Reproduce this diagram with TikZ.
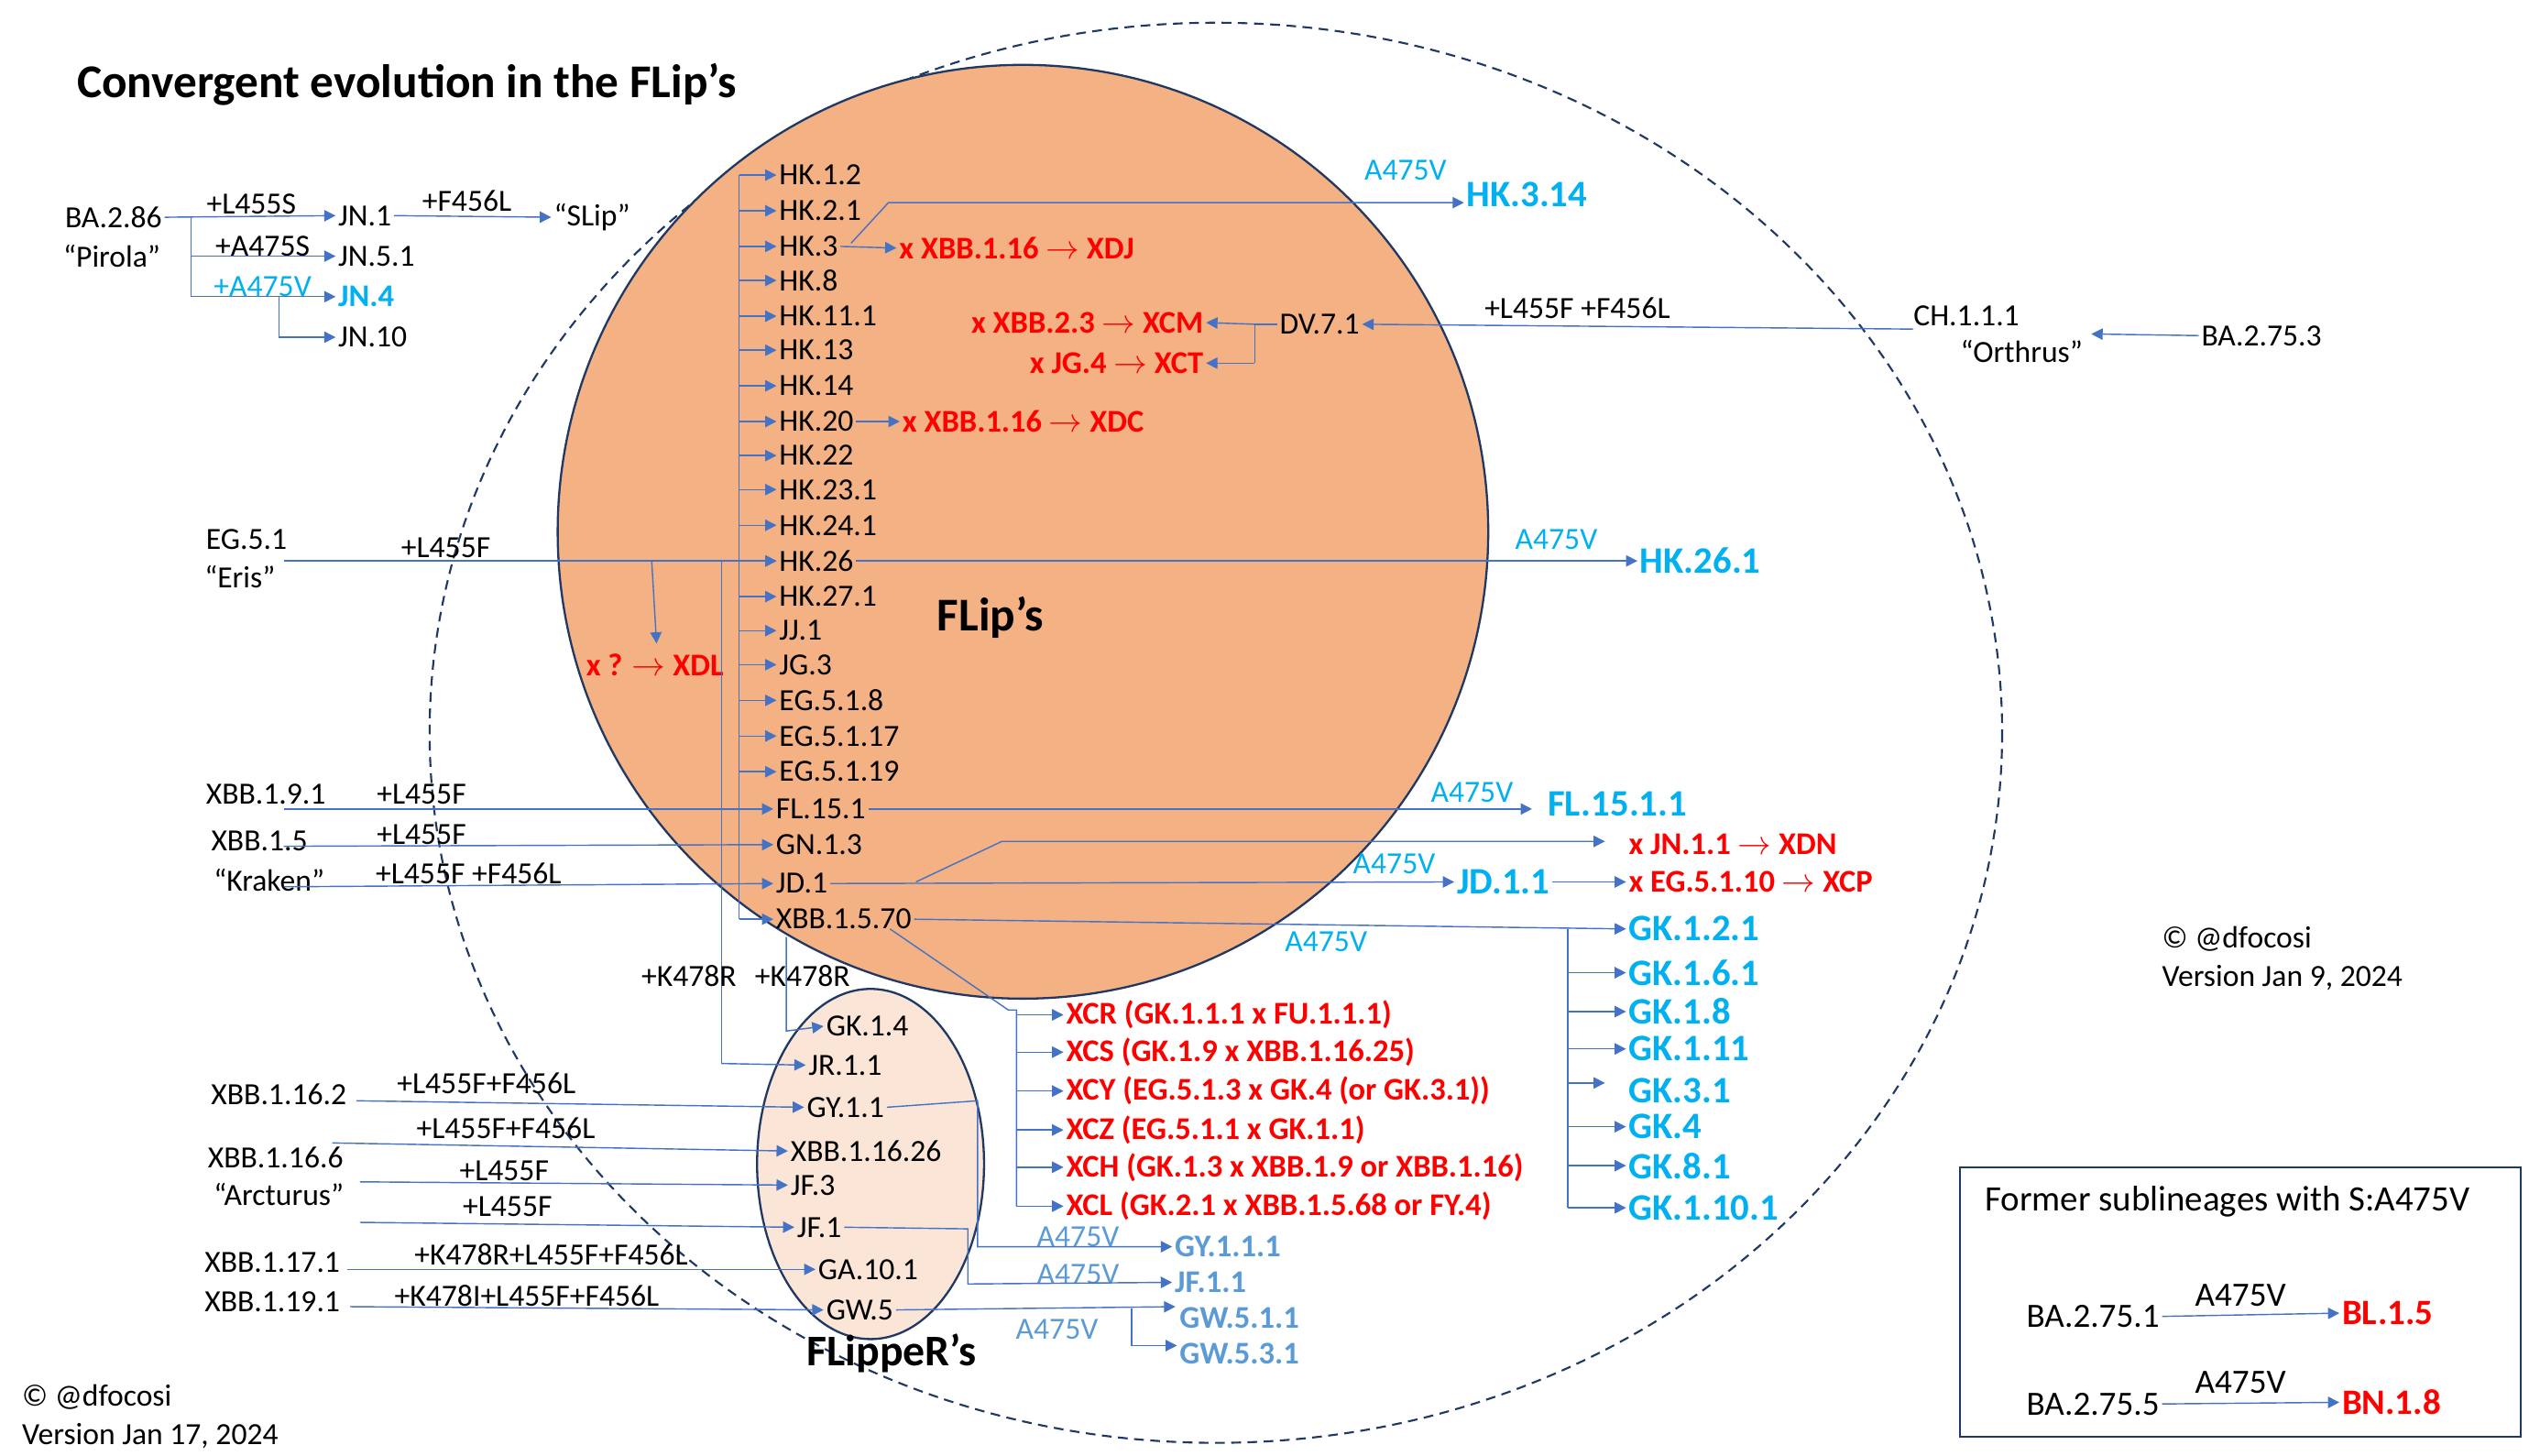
\documentclass[tikz,border=0pt]{standalone}
\usepackage{fontspec}
\setmainfont{Carlito}
\usetikzlibrary{arrows.meta}
\definecolor{lb}{HTML}{4472C4}
\definecolor{cy}{HTML}{00B0F0}
\definecolor{st}{HTML}{5B9BD5}
\definecolor{nv}{HTML}{1F3864}
\definecolor{org}{HTML}{F4B183}
\definecolor{pch}{HTML}{FBE5D6}
\tikzset{
 t/.style={inner sep=1.5pt,font=\fontsize{19}{20}\selectfont},
 tl/.style={t,anchor=west},
 cyb/.style={inner sep=1.5pt,anchor=west,text=cy,font=\fontsize{23}{24}\selectfont\bfseries},
 rd/.style={inner sep=1.5pt,anchor=west,text=red,font=\fontsize{19.5}{20}\selectfont\bfseries},
 stb/.style={inner sep=1.5pt,anchor=west,text=st,font=\fontsize{19.5}{20}\selectfont\bfseries},
 mut/.style={t,text=cy},
 muts/.style={t,text=st},
 arr/.style={lb,line width=0.8pt,-{Triangle[width=7pt,length=7pt]}},
 ln/.style={lb,line width=0.8pt},
}
\begin{document}
\begin{tikzpicture}[x=1pt,y=-1pt]
\useasboundingbox (0,0) rectangle (1560,898);
\fill[white] (0,0) rectangle (1560,898);
% ellipses
\draw[nv,line width=1.2pt,dash pattern=on 6pt off 4pt] (750,452) ellipse [x radius=485, y radius=438];
\draw[nv,line width=1.3pt,fill=org] (631,328) ellipse [x radius=287, y radius=288];
\draw[nv,line width=1.3pt,fill=pch] (537,718) ellipse [x radius=70, y radius=108];
\node[anchor=west,font=\fontsize{29}{30}\selectfont\bfseries] (title) at (44,52) {Convergent evolution in the FLip’s};
\node[font=\fontsize{29}{30}\selectfont\bfseries] (flips) at (611,381) {FLip’s};
\node[font=\fontsize{27}{28}\selectfont\bfseries] (flipper) at (550,835) {FLippeR’s};

% top left
\node[t] (ba286) at (70,134) {BA.2.86};
\node[t] (pirola) at (69,158) {“Pirola”};
\node[tl] (jn1) at (207,133) {JN.1};
\node[tl] (jn51) at (207,158) {JN.5.1};
\node[cyb,font=\fontsize{19.5}{20}\selectfont\bfseries] (jn4) at (207,183) {JN.4};
\node[tl] (jn10) at (207,208) {JN.10};
\node[tl] (slip) at (340,134) {“SLip”};
\node[t] (m1) at (155,126) {+L455S};
\node[t] (m2) at (162,152) {+A475S};
\node[mut] (m3) at (162,177) {+A475V};
\node[t] (m4) at (288,124) {+F456L};
\coordinate (b0) at (118,134);
\draw[arr] (ba286.east) -- (jn1.west);
\draw[ln] (b0) -- (118,183);
\draw[arr] (118,158) -- (jn51.west);
\draw[arr] (118,183) -- (jn4.west);
\draw[arr] (172,183) -- (172,208) -- (jn10.west);
\draw[arr] (jn1.east) -- (slip.west);

% HK list
\foreach \n/\lab/\y in {hk12/HK.1.2/108,hk21/HK.2.1/130,hk3/HK.3/152,hk8/HK.8/173,hk111/HK.11.1/195,hk13/HK.13/216,hk14/HK.14/238,hk20/HK.20/260,hk22/HK.22/281,hk231/HK.23.1/302,hk241/HK.24.1/324,hk26/HK.26/346,hk271/HK.27.1/368,jj1/JJ.1/389,jg3/JG.3/410,eg518/EG.5.1.8/432,eg5117/EG.5.1.17/454,eg5119/EG.5.1.19/476}{
  \node[tl] (\n) at (479,\y) {\lab};
  \draw[arr] (456,\y) -- (\n.west);
}
\node[tl] (xbb1570) at (477,567) {XBB.1.5.70};
\draw[ln] (456,108) -- (456,567);
\draw[arr] (456,567) -- (xbb1570.west);

% HK connections
\node[mut] (a1) at (867,105) {A475V};
\node[cyb] (hk314) at (903,120) {HK.3.14};
\draw[arr] (525,150) -- (548,125) -- (hk314.west |- 0,125);
\node[rd] (xdj) at (553,153) {x XBB.1.16 $\rightarrow$ XDJ};
\draw[arr] (hk3.east) -- (xdj.west);
\node[rd] (xdc) at (555,260) {x XBB.1.16 $\rightarrow$ XDC};
\draw[arr] (hk20.east) -- (xdc.west);
\node[mut] (a2) at (960,333) {A475V};
\node[cyb] (hk261) at (1010,346) {HK.26.1};
\draw[arr] (hk26.east) -- (hk261.west);

% DV.7.1
\node[t] (dv71) at (814,200) {DV.7.1};
\node[rd,anchor=east] (xcm) at (744,199) {x XBB.2.3 $\rightarrow$ XCM};
\node[rd,anchor=east] (xct) at (744,224) {x JG.4 $\rightarrow$ XCT};
\draw[ln] (dv71.west) -- (774,200) -- (774,224);
\draw[arr] (774,200) -- (xcm.east);
\draw[arr] (774,224) -- (xct.east);
\node[t] (ch111) at (1213,195) {CH.1.1.1};
\node[t] (orth) at (1247,217) {“Orthrus”};
\node[t] (m5) at (973,190) {+L455F +F456L};
\node[t] (ba2753) at (1395,207) {BA.2.75.3};
\draw[arr] (1180,203) -- (dv71.east);
\draw[arr] (ba2753.west) -- (1290,206);

% Eris
\node[t] (eg51) at (152,333) {EG.5.1};
\node[t] (eris) at (148,356) {“Eris”};
\node[t] (m6) at (275,338) {+L455F};
\draw[arr] (175,346) -- (hk26.west);
\node[rd,anchor=center] (xdl) at (404,410) {x ? $\rightarrow$ XDL};
\draw[arr] (402,346) -- (405,397);
\draw[ln] (445,346) -- (445,656);

% lower left FLip
\node[t] (xbb191) at (164,490) {XBB.1.9.1};
\node[t] (m7) at (260,490) {+L455F};
\node[tl] (fl151) at (477,499) {FL.15.1};
\draw[arr] (175,499) -- (fl151.west);
\node[t] (xbb15) at (160,519) {XBB.1.5};
\node[t] (krak) at (166,543) {“Kraken”};
\node[t] (m8) at (260,515) {+L455F};
\node[tl] (gn13) at (477,521) {GN.1.3};
\draw[arr] (175,522) -- (gn13.west);
\node[t] (m9) at (289,539) {+L455F +F456L};
\node[tl] (jd1) at (477,545) {JD.1};
\draw[arr] (175,547) -- (jd1.west);

\node[mut] (a3) at (908,489) {A475V};
\node[cyb] (fl1511) at (953,496) {FL.15.1.1};
\draw[arr] (fl151.east) -- (945,499);
\node[mut] (a4) at (860,533) {A475V};
\node[cyb] (jd11) at (897,544) {JD.1.1};
\draw[arr] (jd1.east) -- (jd11.west);
\node[rd] (xcp) at (1003,544) {x EG.5.1.10 $\rightarrow$ XCP};
\draw[arr] (jd11.east) -- (xcp.west);
\node[rd] (xdn) at (1003,521) {x JN.1.1 $\rightarrow$ XDN};
\draw[arr] (565,544) -- (618,519) -- (990,519);

% GK list
\node[mut] (a5) at (818,581) {A475V};
\foreach \n/\lab/\y in {gk121/GK.1.2.1/573,gk161/GK.1.6.1/600,gk18/GK.1.8/624,gk111/GK.1.11/647,gk31/GK.3.1/673,gk4/GK.4/695,gk81/GK.8.1/719,gk1101/GK.1.10.1/745}{
  \node[cyb] (\n) at (1003,\y) {\lab};
}
\draw[arr] (xbb1570.east) -- (gk121.west);
\draw[ln] (967,573) -- (967,745);
\foreach \n/\y in {gk161/600,gk18/624,gk111/647,gk4/695,gk81/719,gk1101/745}{
  \draw[arr] (967,\y) -- (\n.west);
}
\draw[arr] (967,668) -- (990,668);

% recombinants
\foreach \n/\lab/\y in {xcr/XCR (GK.1.1.1 x FU.1.1.1)/626,xcs/XCS (GK.1.9 x XBB.1.16.25)/649,xcy/XCY (EG.5.1.3 x GK.4 (or GK.3.1))/673,xcz/XCZ (EG.5.1.1 x GK.1.1)/697,xch/XCH (GK.1.3 x XBB.1.9 or XBB.1.16)/720,xcl/XCL (GK.2.1 x XBB.1.5.68 or FY.4)/744}{
  \node[rd] (\n) at (656,\y) {\lab};
  \draw[arr] (627,\y) -- (\n.west);
}
\draw[ln] (549,573) -- (622,623) -- (627,623) -- (627,744);

% K478R
\node[t] (m10) at (425,602) {+K478R};
\node[t] (m11) at (495,602) {+K478R};
\node[tl] (gk14) at (508,633) {GK.1.4};
\node[tl] (jr11) at (497,657) {JR.1.1};
\draw[arr] (485,578) -- (485,636) -- (gk14.west);
\draw[arr] (445,656) -- (jr11.west);

% FlippeR's contents
\node[tl] (gy11) at (496,683) {GY.1.1};
\node[tl] (xbb11626) at (486,710) {XBB.1.16.26};
\node[tl] (jf3) at (486,731) {JF.3};
\node[tl] (jf1) at (490,757) {JF.1};
\node[tl] (ga101) at (503,783) {GA.10.1};
\node[tl] (gw5) at (508,808) {GW.5};

\node[t] (xbb1162) at (172,675) {XBB.1.16.2};
\node[t] (m12) at (300,668) {+L455F+F456L};
\draw[arr] (220,679) -- (gy11.west);
\node[t] (xbb1166) at (170,714) {XBB.1.16.6};
\node[t] (arct) at (172,737) {“Arcturus”};
\node[t] (m13) at (312,696) {+L455F+F456L};
\draw[arr] (205,705) -- (xbb11626.west);
\node[t] (m14) at (311,722) {+L455F};
\draw[arr] (222,729) -- (jf3.west);
\node[t] (m15) at (313,744) {+L455F};
\draw[arr] (222,754) -- (jf1.west);
\node[t] (xbb1171) at (168,779) {XBB.1.17.1};
\node[t] (m16) at (340,774) {+K478R+L455F+F456L};
\draw[arr] (214,783) -- (ga101.west);
\node[t] (xbb1191) at (168,803) {XBB.1.19.1};
\node[t] (m17) at (325,799) {+K478I+L455F+F456L};
\draw[arr] (216,806) -- (gw5.west);

\node[stb] (gy111) at (723,769) {GY.1.1.1};
\node[muts] (a6) at (665,763) {A475V};
\draw[arr] (gy11.east) -- (603,679) -- (603,769) -- (gy111.west);
\node[stb] (jf11) at (723,791) {JF.1.1};
\node[muts] (a7) at (665,786) {A475V};
\draw[arr] (jf1.east) -- (597,758) -- (597,792) -- (jf11.west);
\node[stb] (gw511) at (726,813) {GW.5.1.1};
\node[stb] (gw531) at (726,835) {GW.5.3.1};
\node[muts] (a8) at (652,820) {A475V};
\draw[arr] (gw5.east) -- (725,806);
\draw[arr] (698,807) -- (698,830) -- (gw531.west |- 0,830);

% credits
\node[t,anchor=west] (c1) at (1332,579) {© @dfocosi};
\node[t,anchor=west] (c2) at (1332,603) {Version Jan 9, 2024};
\node[t,anchor=west] (c3) at (12,862) {© @dfocosi};
\node[t,anchor=west] (c4) at (12,886) {Version Jan 17, 2024};

% box
\draw[nv,line width=1.2pt] (1209,720) rectangle (1555,886);
\node[t,font=\fontsize{22}{23}\selectfont] (bt) at (1374,741) {Former sublineages with S:A475V};
\node[t,font=\fontsize{21}{22}\selectfont] (ba2751) at (1291,812) {BA.2.75.1};
\node[t,font=\fontsize{21}{22}\selectfont] (ma) at (1382,799) {A475V};
\node[rd,font=\fontsize{22}{23}\selectfont\bfseries] (bl15) at (1443,810) {BL.1.5};
\draw[arr] (ba2751.east) -- (bl15.west);
\node[t,font=\fontsize{21}{22}\selectfont] (ba2755) at (1291,866) {BA.2.75.5};
\node[t,font=\fontsize{21}{22}\selectfont] (mb) at (1382,853) {A475V};
\node[rd,font=\fontsize{22}{23}\selectfont\bfseries] (bn18) at (1443,865) {BN.1.8};
\draw[arr] (ba2755.east) -- (bn18.west);
\end{tikzpicture}
\end{document}
